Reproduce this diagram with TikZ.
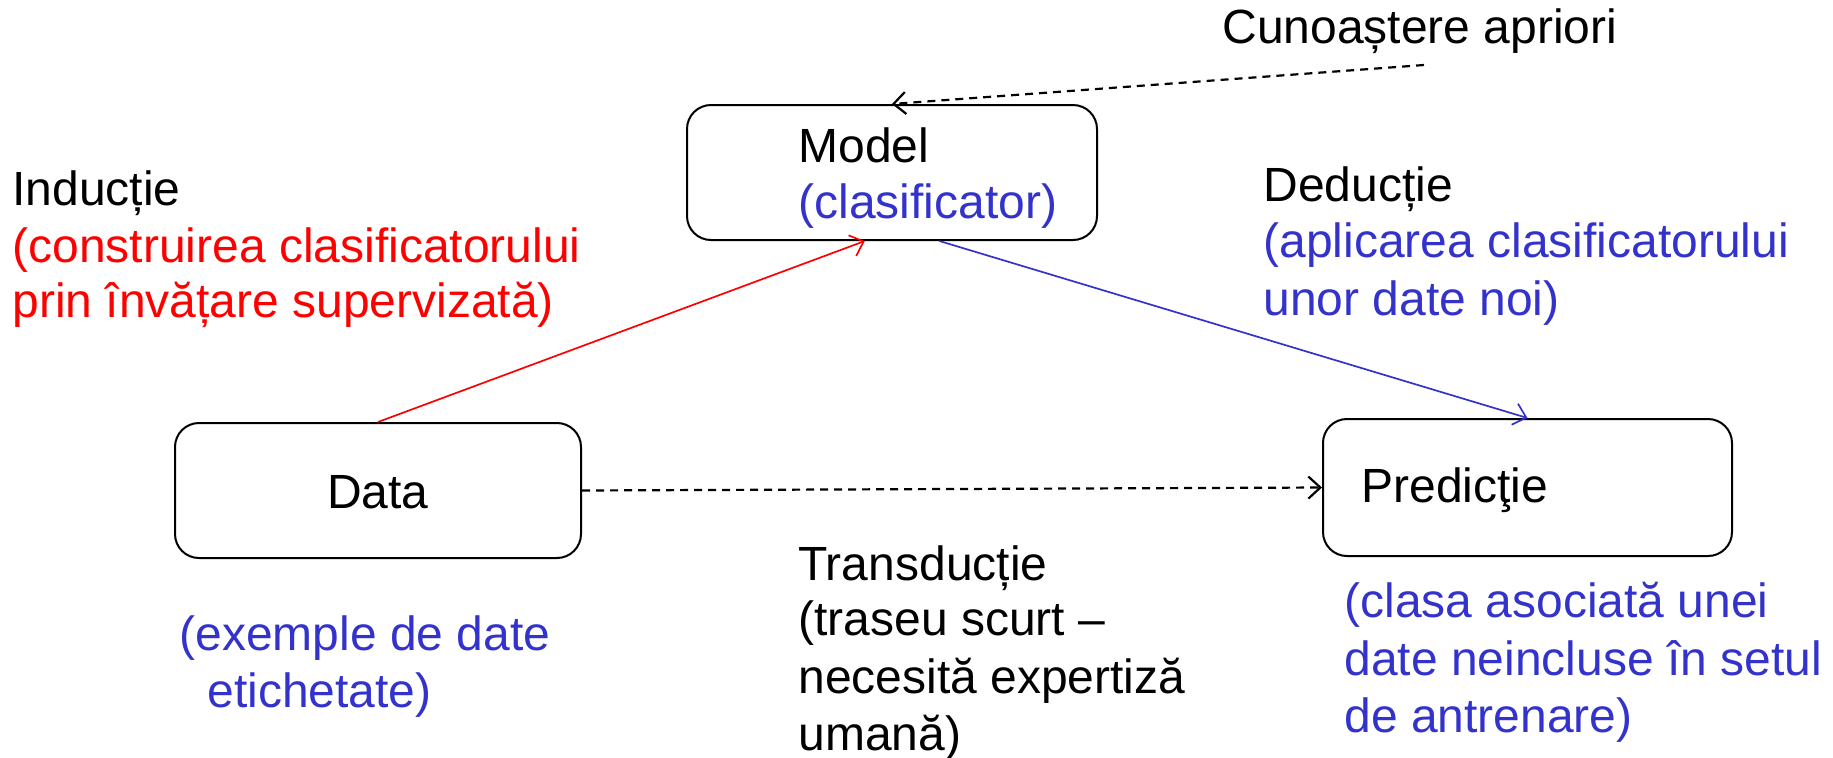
\documentclass[tikz,border=0pt]{standalone}
\usepackage{fontspec}
\setmainfont{Liberation Sans}
\usetikzlibrary{arrows.meta,calc}
\definecolor{myblue}{RGB}{51,51,204}
\definecolor{myred}{RGB}{255,0,0}
\begin{document}
\begin{tikzpicture}[x=0.5pt,y=-0.5pt,
 box/.style={draw=black,line width=1pt,rounded corners=12pt,minimum height=67.5pt,inner sep=0pt},
 lbl/.style={anchor=base west,inner sep=0pt,font=\fontsize{24pt}{28pt}\selectfont},
 conn/.style={line width=0.85pt,-{Straight Barb[length=6pt,width=11pt]}},
 dsh/.style={line width=1.1pt,dash pattern=on 4pt off 3pt}]
\useasboundingbox (0,0) rectangle (1833,757);
% boxes
\node[box,minimum width=205pt] (model) at (892,172.5) {};
\node[box,minimum width=203pt] (data) at (378,490.5) {};
\node[box,minimum width=204.5pt,minimum height=68.5pt] (pred) at (1527.5,487.5) {};
% texts
\node[lbl] (cun) at (1222,43) {Cunoaștere apriori};
\node[lbl] (modelt) at (798,162) {Model};
\node[lbl,text=myblue] (clasif) at (798,218) {(clasificator)};
\node[lbl] (ind) at (12,205) {Inducție};
\node[lbl,text=myred] (ind2) at (12,262) {(construirea clasificatorului};
\node[lbl,text=myred] (ind3) at (12,317) {prin învățare supervizată)};
\node[lbl] (ded) at (1263,201) {Deducție};
\node[lbl,text=myblue] (ded2) at (1263,257) {(aplicarea clasificatorului};
\node[lbl,text=myblue] (ded3) at (1263,315) {unor date noi)};
\node[lbl,anchor=base] (datat) at (378,508) {Data};
\node[lbl] (predt) at (1361,502) {Predicţie};
\node[lbl,text=myblue] (ex1) at (179,650) {(exemple de date};
\node[lbl,text=myblue] (ex2) at (207,707) {etichetate)};
\node[lbl] (tr1) at (798,580) {Transducție};
\node[lbl] (tr2) at (798,635) {(traseu scurt –};
\node[lbl] (tr3) at (798,693) {necesită expertiză};
\node[lbl] (tr4) at (798,750) {umană)};
\node[lbl,text=myblue] (cl1) at (1344,617) {(clasa asociată unei};
\node[lbl,text=myblue] (cl2) at (1344,675) {date neincluse în setul};
\node[lbl,text=myblue] (cl3) at (1344,732) {de antrenare)};
% connectors
\coordinate (cunstart) at (1424,65);
\draw[conn,dsh] (cunstart) -- (model.north);
\draw[conn,myred] (data.north) -- ($(model.south west)!0.434!(model.south east)$);
\draw[conn,myblue] ($(model.south west)!0.615!(model.south east)$) -- (pred.north);
\draw[conn,dsh] (data.east) -- (pred.west);
\end{tikzpicture}
\end{document}
